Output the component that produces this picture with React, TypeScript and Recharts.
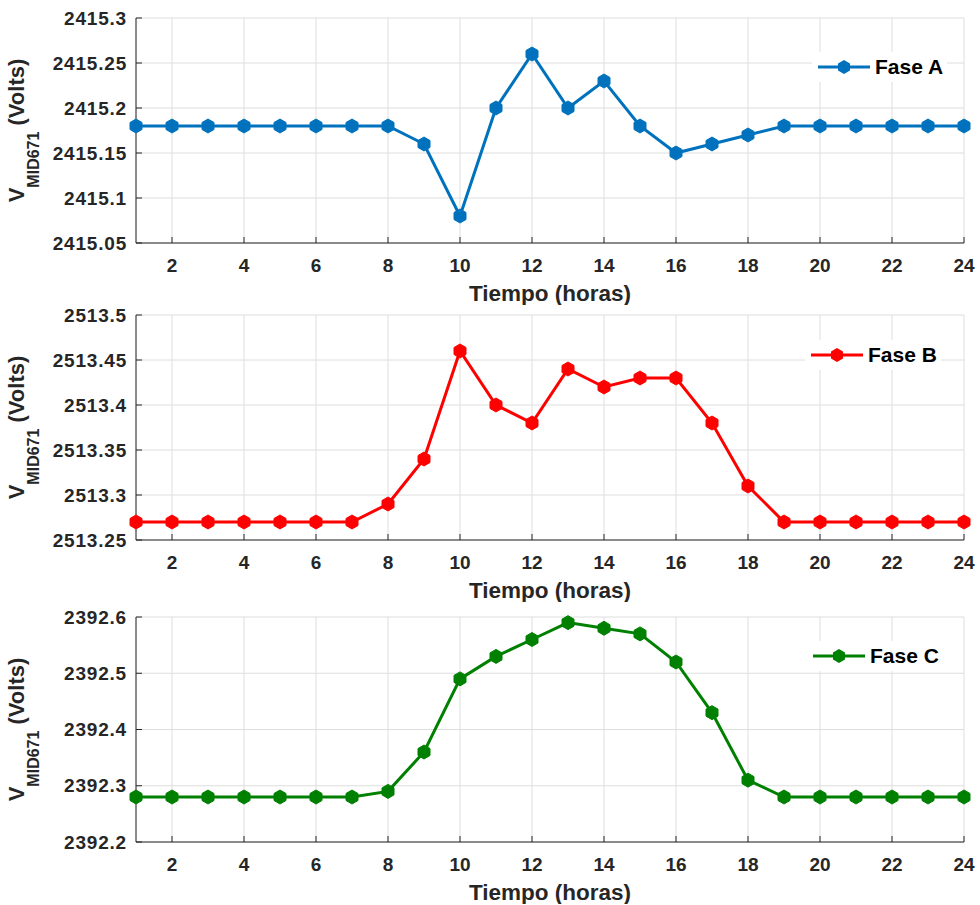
import { LineChart, Line, XAxis, YAxis, CartesianGrid, Legend } from 'recharts';

const hours = [1, 2, 3, 4, 5, 6, 7, 8, 9, 10, 11, 12, 13, 14, 15, 16, 17, 18, 19, 20, 21, 22, 23, 24];
const hourTicks = [2, 4, 6, 8, 10, 12, 14, 16, 18, 20, 22, 24];

const faseA = [2415.18, 2415.18, 2415.18, 2415.18, 2415.18, 2415.18, 2415.18, 2415.18, 2415.16, 2415.08, 2415.2, 2415.26,
  2415.2, 2415.23, 2415.18, 2415.15, 2415.16, 2415.17, 2415.18, 2415.18, 2415.18, 2415.18, 2415.18, 2415.18];
const faseB = [2513.27, 2513.27, 2513.27, 2513.27, 2513.27, 2513.27, 2513.27, 2513.29, 2513.34, 2513.46, 2513.4, 2513.38,
  2513.44, 2513.42, 2513.43, 2513.43, 2513.38, 2513.31, 2513.27, 2513.27, 2513.27, 2513.27, 2513.27, 2513.27];
const faseC = [2392.28, 2392.28, 2392.28, 2392.28, 2392.28, 2392.28, 2392.28, 2392.29, 2392.36, 2392.49, 2392.53, 2392.56,
  2392.59, 2392.58, 2392.57, 2392.52, 2392.43, 2392.31, 2392.28, 2392.28, 2392.28, 2392.28, 2392.28, 2392.28];

const ticksA = [2415.05, 2415.1, 2415.15, 2415.2, 2415.25, 2415.3];
const ticksB = [2513.25, 2513.3, 2513.35, 2513.4, 2513.45, 2513.5];
const ticksC = [2392.2, 2392.3, 2392.4, 2392.5, 2392.6];

const FONT = '"Liberation Sans", Arial, sans-serif';
const AXIS = '#262626';

const panels = [
  { name: 'Fase A', values: faseA, ticks: ticksA, color: '#0072BD', top: 0, legendTop: 52, legendLeft: 812 },
  { name: 'Fase B', values: faseB, ticks: ticksB, color: '#FF0000', top: 297, legendTop: 43, legendLeft: 805 },
  { name: 'Fase C', values: faseC, ticks: ticksC, color: '#008000', top: 599, legendTop: 42, legendLeft: 807 },
];

const fmtY = (v: number) => String(Number(v.toFixed(2)));

function hexPoints(cx: number, cy: number) {
  return [
    [cx, cy - 7], [cx + 6, cy - 3.5], [cx + 6, cy + 3.5], [cx, cy + 7], [cx - 6, cy + 3.5], [cx - 6, cy - 3.5],
  ].map((p) => p.join(',')).join(' ');
}

const makeDot = (color: string) => (props: any) => (
  <polygon key={`d-${props.index}`} points={hexPoints(props.cx, props.cy)} fill={color} stroke={color} strokeWidth={1} />
);

function YLabel({ cy }: { cy: number }) {
  return (
    <text x={24} y={cy} transform={`rotate(-90, 24, ${cy})`} textAnchor="middle"
      fontFamily={FONT} fontWeight="bold" fontSize={22} fill={AXIS}>
      <tspan>V</tspan>
      <tspan fontSize={16} dy={15}>MID671</tspan>
      <tspan dy={-15}> (Volts)</tspan>
    </text>
  );
}

function Panel({ p }: { p: typeof panels[number] }) {
  const data = hours.map((h, i) => ({ hour: h, v: p.values[i] }));
  const domain = [p.ticks[0], p.ticks[p.ticks.length - 1]];
  const xTickStyle = { fill: AXIS, fontSize: 19, fontWeight: 'bold', fontFamily: FONT };
  const yTickStyle = { fill: AXIS, fontSize: 19, fontWeight: 'bold', fontFamily: FONT, letterSpacing: 0.8 };
  return (
    <div style={{ position: 'absolute', top: p.top, left: 0 }}>
      <LineChart width={980} height={305} data={data} margin={{ top: 18, right: 16, left: 36, bottom: 0 }}>
        <CartesianGrid stroke="#dedede" strokeWidth={1} />
        <XAxis dataKey="hour" type="number" domain={[1, 24]} ticks={hourTicks} height={62}
          stroke={AXIS} tickSize={-6} tickMargin={22} tick={xTickStyle}
          label={{ value: 'Tiempo (horas)', position: 'insideBottom', offset: 4, fill: AXIS, fontSize: 22.5, fontWeight: 'bold', fontFamily: FONT }} />
        <XAxis xAxisId="top" dataKey="hour" type="number" domain={[1, 24]} ticks={hourTicks} orientation="top" height={0}
          stroke={AXIS} tickSize={-6} tickFormatter={() => ''} />
        <YAxis type="number" domain={domain} ticks={p.ticks} width={100} stroke={AXIS} tickSize={-6} tickMargin={15}
          tick={yTickStyle} tickFormatter={fmtY}
          label={{ content: (lp: any) => <YLabel cy={lp.viewBox ? lp.viewBox.y + lp.viewBox.height / 2 : 130} /> }} />
        <YAxis yAxisId="right" type="number" domain={domain} ticks={p.ticks} orientation="right" width={0}
          stroke={AXIS} tickSize={-6} tickFormatter={() => ''} />
        <Line dataKey="v" name={p.name} stroke={p.color} strokeWidth={3} dot={makeDot(p.color)} activeDot={false}
          isAnimationActive={false} />
        <Legend layout="horizontal" verticalAlign="middle" align="center"
          wrapperStyle={{ top: p.legendTop, left: p.legendLeft, width: 'auto', height: 'auto' }}
          content={() => (
            <div style={{ display: 'flex', alignItems: 'center', background: '#fff', padding: '0 4px', height: 30 }}>
              <svg width={54} height={30}>
                <line x1={2} y1={15} x2={54} y2={15} stroke={p.color} strokeWidth={3} />
                <polygon points={hexPoints(28, 15)} fill={p.color} />
              </svg>
              <span style={{ marginLeft: 5, fontFamily: FONT, fontWeight: 'bold', fontSize: 21, color: '#000' }}>{p.name}</span>
            </div>
          )} />
      </LineChart>
    </div>
  );
}

export default function App() {
  return (
    <div style={{ position: 'absolute', top: 0, left: 0, width: 980, height: 905, background: '#fff' }}>
      {panels.map((p) => <Panel key={p.name} p={p} />)}
    </div>
  );
}
